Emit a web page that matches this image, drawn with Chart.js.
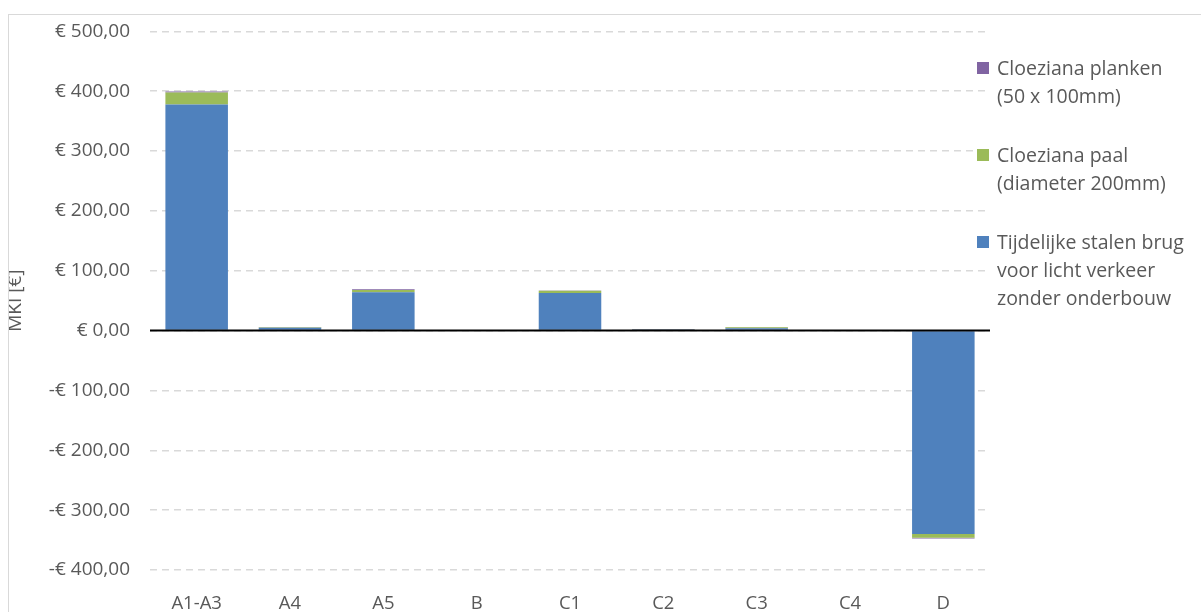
<!DOCTYPE html>
<html>
<head>
<meta charset="utf-8">
<script src="https://cdn.jsdelivr.net/npm/chart.js@4"></script>
<style>
  body { margin: 0; background: #fff; }
  #wrap { position: relative; width: 1201px; height: 612px; }
  #frame { position: absolute; left: 8px; top: 14px; width: 1200px; height: 620px; border: 1px solid #d9d9d9; box-sizing: border-box; }
  #legend { position: absolute; left: 977px; top: 54px; font-family: "Open Sans", sans-serif; font-size: 19.5px; color: #595959; line-height: 28px; white-space: nowrap; }
  .item { position: relative; padding-left: 20px; margin-bottom: 31px; }
  .box { position: absolute; left: 0; top: 8px; width: 12px; height: 12px; }
</style>
</head>
<body>
<div id="wrap">
  <div id="frame"></div>
  <canvas id="mki" width="1201" height="612"></canvas>
  <div id="legend"></div>
</div>
<script>
const categories = ['A1-A3', 'A4', 'A5', 'B', 'C1', 'C2', 'C3', 'C4', 'D'];
const stalenBrug = [378, 5, 64, 0, 63, 1, 4, 0, -340];
const paal = [20, 0.8, 4, 0, 3.5, 0.3, 1.5, 0, -6];
const planken = [1.5, 0.4, 1, 0, 0.5, 0.8, 0.5, 0, -1.5];
const yTicks = [-400, -300, -200, -100, 0, 100, 200, 300, 400, 500];

const seriesNames = [
    ['Tijdelijke stalen brug', 'voor licht verkeer', 'zonder onderbouw'],
    ['Cloeziana paal', '(diameter 200mm)'],
    ['Cloeziana planken', '(50 x 100mm)']
];
const colors = ['#4f81bd', '#9bbb59', '#8064a2'];

function euro(v) {
    return (v < 0 ? '-' : '') + '€ ' + Math.abs(v).toFixed(2).replace('.', ',');
}

// zero line drawn on top of bars
const zeroLine = {
    id: 'zeroLine',
    afterDatasetsDraw(chart) {
        const y = chart.scales.y.getPixelForValue(0);
        const c = chart.ctx;
        c.save();
        c.strokeStyle = '#000';
        c.lineWidth = 2;
        c.beginPath();
        c.moveTo(chart.chartArea.left, y);
        c.lineTo(chart.chartArea.right, y);
        c.stroke();
        c.restore();
    }
};

const ctx = document.getElementById('mki').getContext('2d');
const chart = new Chart(ctx, {
    type: 'bar',
    data: {
        labels: categories,
        datasets: [stalenBrug, paal, planken].map((d, i) => ({
            label: seriesNames[i].join(' '),
            data: d,
            backgroundColor: colors[i],
            borderWidth: 0,
            barPercentage: 0.67,
            categoryPercentage: 1
        }))
    },
    options: {
        responsive: false,
        animation: false,
        layout: { padding: { top: 30, right: 211, left: 0, bottom: 0 } },
        plugins: { legend: { display: false }, tooltip: { enabled: false } },
        scales: {
            x: {
                stacked: true,
                grid: { display: false },
                border: { display: false },
                ticks: { color: '#595959', font: { family: 'Open Sans', size: 18.5 }, padding: 15 },
                afterFit(s) { s.height = 42; }
            },
            y: {
                stacked: true,
                min: -400,
                max: 500,
                afterBuildTicks(s) { s.ticks = yTicks.map(v => ({ value: v })); },
                grid: { color: '#d9d9d9', lineWidth: 1.5, drawTicks: false },
                border: { display: false, dash: [7, 5] },
                ticks: {
                    color: '#595959',
                    font: { family: 'Open Sans', size: 19 },
                    padding: 20,
                    callback: v => euro(v)
                },
                title: {
                    display: true,
                    text: 'MKI [€]',
                    color: '#595959',
                    font: { family: 'Open Sans', size: 19 },
                    padding: { top: 4, bottom: 0 }
                },
                afterFit(s) { s.width = 150; }
            }
        }
    },
    plugins: [zeroLine]
});

// legend, top item first
const legend = document.getElementById('legend');
[2, 1, 0].forEach(i => {
    const item = document.createElement('div');
    item.className = 'item';
    item.innerHTML = '<span class="box" style="background:' + colors[i] + '"></span>' + seriesNames[i].join('<br>');
    legend.appendChild(item);
});
</script>
</body>
</html>
